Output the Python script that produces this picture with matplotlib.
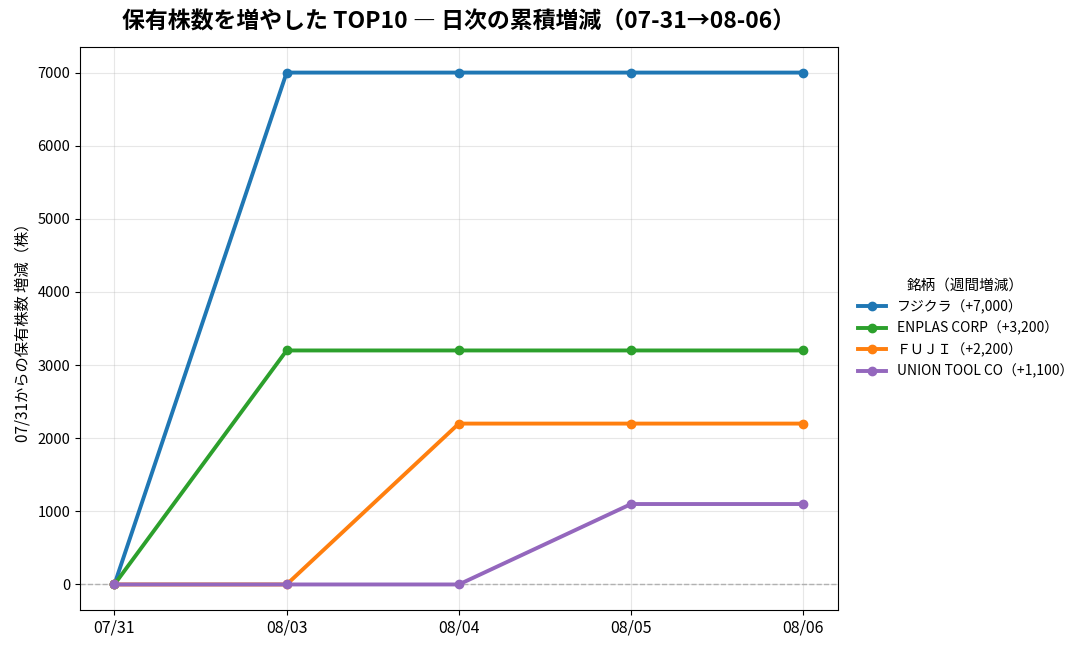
import matplotlib
matplotlib.use("Agg")
import matplotlib.pyplot as plt

plt.rcParams['font.family'] = ['Noto Sans CJK JP', 'DejaVu Sans']

dates = ['07/31', '08/03', '08/04', '08/05', '08/06']
names = ['フジクラ（+7,000）', 'ENPLAS CORP（+3,200）', 'ＦＵＪＩ（+2,200）', 'UNION TOOL CO（+1,100）']
fujikura = [0, 7000, 7000, 7000, 7000]
enplas = [0, 3200, 3200, 3200, 3200]
fuji = [0, 0, 2200, 2200, 2200]
union_tool = [0, 0, 0, 1100, 1100]
colors = ['#1f77b4', '#2ca02c', '#ff7f0e', '#9467bd']

fig = plt.figure(figsize=(10.88, 6.49), dpi=100)
ax = fig.add_axes([0.0735, 0.060, 0.6965, 0.8676])

x = range(len(dates))
for vals, name, c in zip([fujikura, enplas, fuji, union_tool], names, colors):
    ax.plot(x, vals, '-o', color=c, lw=2.8, ms=6, label=name)

ax.axhline(0, color='gray', ls='--', lw=1, alpha=0.6, zorder=0)
ax.grid(True, alpha=0.3)
ax.set_xticks(list(x))
ax.set_xticklabels(dates, fontsize=11.5)
ax.tick_params(axis='y', labelsize=10.5)
ax.set_ylabel('07/31からの保有株数 増減（株）', fontsize=11)
ax.set_title('保有株数を増やした TOP10 \u2015 日次の累積増減（07-31→08-06）',
             fontsize=16.5, fontweight='bold', pad=13)
ax.legend(title='銘柄（週間増減）', loc='center left', bbox_to_anchor=(1.01, 0.5),
          frameon=False, fontsize=10, title_fontsize=10.5)

fig.savefig('out.png', dpi=100)
